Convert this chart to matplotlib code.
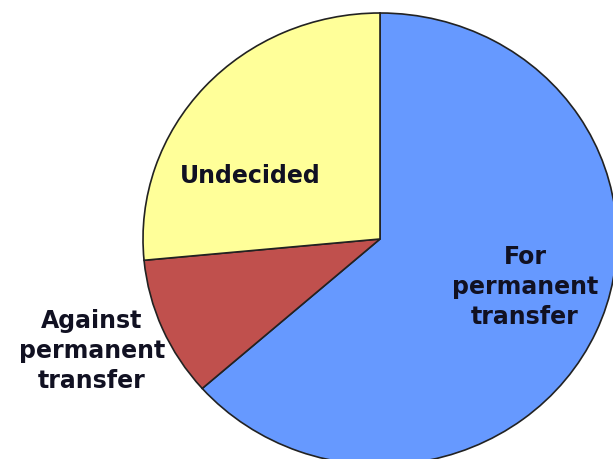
import matplotlib
matplotlib.use("Agg")
import matplotlib.pyplot as plt

categories = ["For\npermanent\ntransfer", "Against\npermanent\ntransfer", "Undecided"]
values = [63.5, 10, 26.5]
colors = ["#6699FF", "#C0504D", "#FFFF99"]

W, H = 613, 460
rx, ry = 237, 226          # pie is slightly stretched horizontally in the reference
yscale = rx / ry

fig = plt.figure(figsize=(W / 100, H / 100), dpi=100)
ax = fig.add_axes([0, 0, 1, 1])

ax.pie(values, colors=colors, startangle=90, counterclock=False,
       center=(380, (H - 240) * yscale), radius=rx, frame=True,
       wedgeprops=dict(edgecolor="#222222", linewidth=1.2))
ax.set_xlim(0, W)
ax.set_ylim(0, H * yscale)
ax.set_aspect("auto")
ax.axis("off")

font = dict(fontsize=17, fontweight="bold", family="DejaVu Sans",
            color="#111122", ha="center", va="center", linespacing=1.3)
def px(x, y):
    return x / W, 1 - y / H
fig.text(*px(525, 287), categories[0], **font)
fig.text(*px(92, 351), categories[1], **font)
fig.text(*px(250, 176), categories[2], **font)

fig.savefig("out.png", dpi=100)
